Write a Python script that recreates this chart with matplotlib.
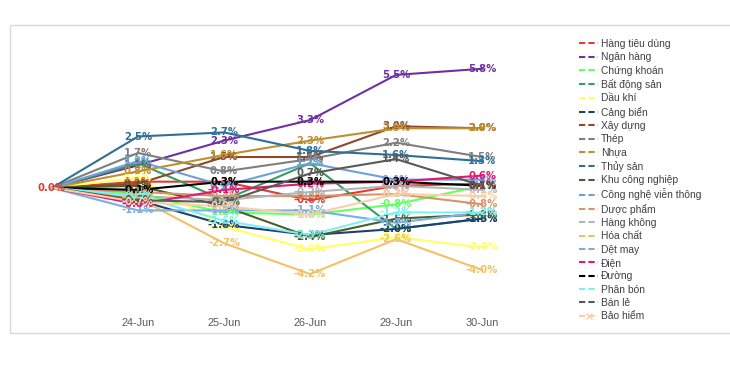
"""Sector performance lines, 24-30 Jun"""

import matplotlib
matplotlib.use('Agg')
import matplotlib.pyplot as plt
from matplotlib.lines import Line2D
from matplotlib.patches import Rectangle

plt.rcParams['font.family'] = ['Liberation Sans', 'DejaVu Sans']

dates = ['', '24-Jun', '25-Jun', '26-Jun', '29-Jun', '30-Jun']

sectors = [
    'Hàng tiêu dùng', 'Ngân hàng', 'Chứng khoán', 'Bất động sản', 'Dầu khí',
    'Cảng biển', 'Xây dựng', 'Thép', 'Nhựa', 'Thủy sản', 'Khu công nghiệp',
    'Công nghệ viễn thông', 'Dược phẩm', 'Hàng không', 'Hóa chất', 'Dệt may',
    'Điện', 'Đường', 'Phân bón', 'Bán lẻ', 'Bảo hiểm',
]

colors = [
    '#e03c31', '#7030a0', '#66ff66', '#33a060', '#ffff66',
    '#1f3f6e', '#8b4a2b', '#7f7f7f', '#bf8f30', '#2f6f96', '#4a5f2a',
    '#6fa0dc', '#d4956a', '#b4b4b4', '#f2c166', '#7cafdd',
    '#e0186e', '#000000', '#7ff0f0', '#595959', '#f8cfa8',
]

# % change vs. start, one list per sector
hang_tieu_dung = [0.0, 0.3, 0.3, -0.6, 0.1, 0.2]
ngan_hang = [0.0, 1.1, 2.3, 3.3, 5.5, 5.8]
chung_khoan = [0.0, -0.3, -1.2, -1.3, -0.8, 0.1]
bat_dong_san = [0.0, 1.2, -0.6, 1.2, -2.0, -1.5]
dau_khi = [0.0, 0.5, -1.9, -3.0, -2.4, -2.9]
cang_bien = [0.0, -0.6, -1.8, -2.3, -2.0, -1.5]
xay_dung = [0.0, 0.2, 1.5, 1.5, 3.0, 2.9]
thep = [0.0, 1.7, 0.8, 1.4, 2.2, 1.5]
nhua = [0.0, 0.8, 1.6, 2.3, 2.9, 2.9]
thuy_san = [0.0, 2.5, 2.7, 1.8, 1.6, 1.3]
khu_cong_nghiep = [0.0, 0.1, -0.9, -2.4, -1.5, -1.3]
cong_nghe = [0.0, 1.3, 0.1, 1.2, 0.4, 0.4]
duoc_pham = [0.0, -0.2, -0.4, -0.4, -0.3, -0.8]
hang_khong = [0.0, -0.4, -0.6, -0.2, 0.1, -0.1]
hoa_chat = [0.0, -0.5, -2.7, -4.2, -2.5, -4.0]
det_may = [0.0, -1.1, -1.1, -1.1, -1.7, -1.2]
dien = [0.0, -0.8, -0.1, 0.2, 0.3, 0.6]
duong = [0.0, -0.1, 0.3, 0.3, 0.3, 0.1]
phan_bon = [0.0, -0.4, -1.6, -2.3, -1.2, -1.2]
ban_le = [0.0, -0.6, -0.7, 0.7, 1.4, 0.1]
bao_hiem = [0.0, -0.7, -0.9, -1.3, -0.3, -0.4]

series = [
    hang_tieu_dung, ngan_hang, chung_khoan, bat_dong_san, dau_khi,
    cang_bien, xay_dung, thep, nhua, thuy_san, khu_cong_nghiep,
    cong_nghe, duoc_pham, hang_khong, hoa_chat, det_may,
    dien, duong, phan_bon, ban_le, bao_hiem,
]

fig = plt.figure(figsize=(7.3, 3.67), dpi=100)
fig.patches.append(Rectangle((10 / 730, 34 / 367), 1.0, 308 / 367,
                             transform=fig.transFigure, fill=False,
                             edgecolor='#d9d9d9', linewidth=1.0))

ax = fig.add_axes([25 / 730, 57 / 367, 495 / 730, 270 / 367])
x = list(range(len(dates)))

for vals, col in zip(series, colors):
    ax.plot(x, vals, color=col, linewidth=1.5)

# data labels (start point labelled once)
lab_font = dict(fontsize=7.3, fontweight='bold', ha='center', va='center',
                family=['DejaVu Sans'])
for vals, col in zip(series, colors):
    for xi, v in zip(x[1:], vals[1:]):
        ax.text(xi, v, f'{v:.1f}%', color=col, **lab_font)
ax.text(x[0], hang_tieu_dung[0], f'{hang_tieu_dung[0]:.1f}%', color=colors[0],
        **lab_font)

ax.set_xlim(-0.314, 5.44)
ax.set_ylim(-5.95, 7.2)
ax.set_xticks(x)
ax.set_xticklabels(dates, fontsize=7.8, color='#595959')
ax.tick_params(axis='x', length=0, pad=6)
ax.set_yticks([])
for s in ax.spines.values():
    s.set_visible(False)

handles = []
for name, col in zip(sectors, colors):
    handles.append(Line2D([], [], color=col, linewidth=1.5,
                          linestyle=(0, (3, 1.5)),
                          marker='x' if name == 'Bảo hiểm' else None,
                          markersize=4))
fig.legend(handles, sectors, loc='upper left',
           bbox_to_anchor=(579 / 730, 1 - 39 / 367), frameon=False,
           fontsize=7.4, labelcolor='#404040', handlelength=1.85,
           handletextpad=0.3, labelspacing=0.325, borderaxespad=0,
           borderpad=0)

fig.savefig('out.png', dpi=100)
